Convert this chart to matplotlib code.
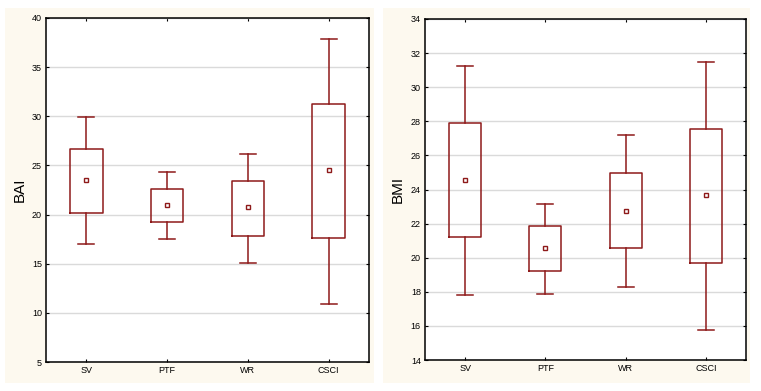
import matplotlib
matplotlib.use('Agg')
import matplotlib.pyplot as plt
from matplotlib.patches import Rectangle

plt.rcParams['font.family'] = ['Liberation Sans', 'DejaVu Sans']

# groups on the x axis
groups = ['SV', 'PTF', 'WR', 'CSCI']

# BAI: mean, box (low/high), whiskers (low/high)
bai_mean = [23.5, 20.95, 20.75, 24.5]
bai_box_lo = [20.2, 19.2, 17.85, 17.6]
bai_box_hi = [26.65, 22.6, 23.45, 31.2]
bai_whis_lo = [17.0, 17.5, 15.1, 10.9]
bai_whis_hi = [29.9, 24.3, 26.2, 37.9]

# BMI
bmi_mean = [24.55, 20.55, 22.75, 23.7]
bmi_box_lo = [21.2, 19.2, 20.55, 19.7]
bmi_box_hi = [27.9, 21.85, 24.95, 27.55]
bmi_whis_lo = [17.8, 17.85, 18.3, 15.75]
bmi_whis_hi = [31.25, 23.15, 27.2, 31.5]

red = '#8e1a1a'
cream = '#fdf9ef'

fig = plt.figure(figsize=(7.61, 3.91), dpi=100)
fig.patch.set_facecolor('white')

# cream panels behind each plot
fig.add_artist(Rectangle((5/761, 1-383/391), 369/761, 375/391, transform=fig.transFigure,
                         facecolor=cream, edgecolor='none', zorder=-5))
fig.add_artist(Rectangle((383/761, 1-383/391), 367/761, 375/391, transform=fig.transFigure,
                         facecolor=cream, edgecolor='none', zorder=-5))

ax1 = fig.add_axes([46/761, 1-362/391, 323/761, 344/391])
ax2 = fig.add_axes([425/761, 1-360/391, 321/761, 341/391])


def draw(ax, mean, blo, bhi, wlo, whi, ylim, step, label):
    stats = []
    for i in range(len(groups)):
        stats.append({'med': mean[i], 'mean': mean[i], 'q1': blo[i], 'q3': bhi[i],
                      'whislo': wlo[i], 'whishi': whi[i], 'fliers': [], 'label': groups[i]})
    ax.bxp(stats, positions=range(len(groups)), widths=0.4, showmeans=True, showfliers=False,
           boxprops=dict(color=red, linewidth=1.1),
           whiskerprops=dict(color=red, linewidth=1.1),
           capprops=dict(color=red, linewidth=1.1),
           medianprops=dict(visible=False),
           meanprops=dict(marker='s', markersize=3, markerfacecolor='white',
                          markeredgecolor=red, markeredgewidth=1.0),
           capwidths=0.2)
    ax.set_xlim(-0.5, len(groups) - 0.5)
    ax.set_ylim(ylim)
    ax.set_yticks(range(ylim[0], ylim[1] + 1, step))
    ax.set_xticks(range(len(groups)))
    ax.set_xticklabels(groups)
    ax.yaxis.grid(True, color='#dadada', linewidth=1.0)
    ax.set_axisbelow(True)
    ax.tick_params(direction='in', length=2.5, width=0.8, labelsize=6.5, pad=3,
                   top=True, right=True, colors='black')
    for s in ax.spines.values():
        s.set_linewidth(1.1)
    ax.set_ylabel(label, fontsize=11, labelpad=4)


draw(ax1, bai_mean, bai_box_lo, bai_box_hi, bai_whis_lo, bai_whis_hi, (5, 40), 5, 'BAI')
draw(ax2, bmi_mean, bmi_box_lo, bmi_box_hi, bmi_whis_lo, bmi_whis_hi, (14, 34), 2, 'BMI')

plt.savefig('out.png', dpi=100)
